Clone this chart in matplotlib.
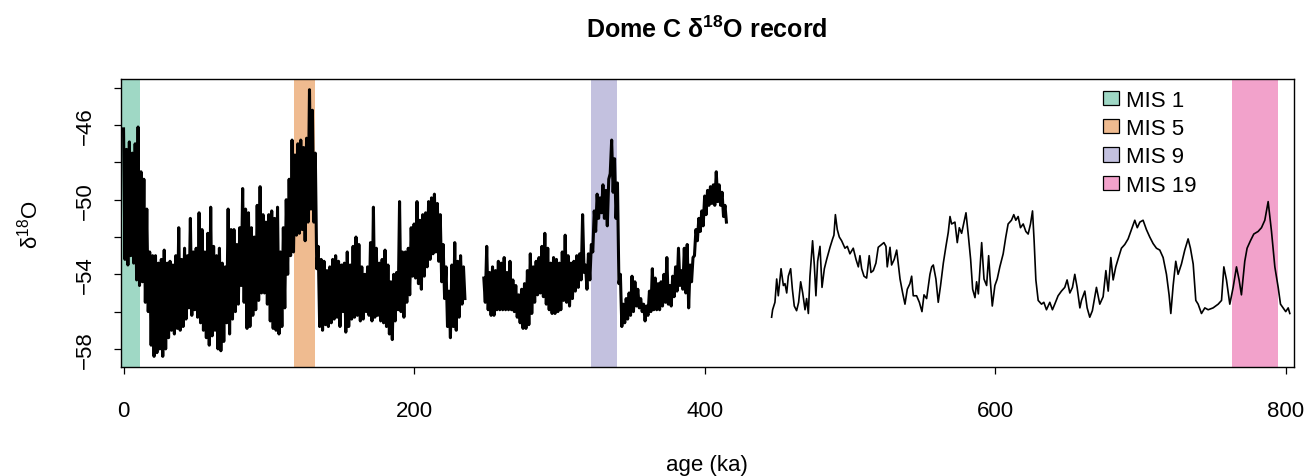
import matplotlib

matplotlib.use("Agg")

import matplotlib.pyplot as plt
import numpy as np
from matplotlib.patches import Patch

plt.rcParams["font.family"] = ["Liberation Sans", "DejaVu Sans"]
plt.rcParams["mathtext.fontset"] = "custom"
plt.rcParams["mathtext.default"] = "regular"
plt.rcParams["mathtext.rm"] = "Liberation Sans"

# --- data (age in ka, d18O in permil) ---
# noisy early part: upper and lower envelope of the dense record
seg1_start = 0
seg1_hi = [
    -46.2, -47.3, -46.9, -47.5, -47.0, -46.1, -48.5, -48.9, -50.5, -52.8,
    -53.0, -53.0, -53.4, -53.2, -52.7, -53.4, -53.3, -53.5, -53.0, -51.5,
    -53.2, -52.6, -53.0, -51.0, -52.8, -52.6, -50.7, -51.6, -52.8, -51.8,
    -50.4, -52.5, -53.0, -52.6, -53.4, -53.6, -50.5, -51.6, -51.6, -52.4,
    -51.5, -49.4, -50.5, -50.7, -51.5, -52.0, -50.3, -49.3, -50.8, -51.2,
    -50.8, -50.6, -51.0, -50.4, -52.8, -51.5, -50.0, -48.9, -46.8, -47.6,
    -47.0, -46.8, -47.2, -46.7, -44.1, -45.2, -47.5, -52.5, -53.2, -53.3,
    -53.8, -53.6, -53.2, -53.0, -53.3, -53.5, -53.4, -52.8, -53.5, -52.5,
    -52.0, -52.4, -53.6, -54.0, -53.6, -52.3, -50.4, -52.6, -53.4, -53.2,
    -52.7, -53.5, -54.4, -54.0, -53.9, -50.1, -52.8, -52.8, -52.6, -51.5,
    -51.3, -50.1, -51.1, -50.8, -50.7, -50.1, -49.9, -49.7, -50.2, -50.8,
    -52.4, -53.6, -54.9, -53.5, -52.3, -53.3, -53.0, -53.6,
]
seg1_lo = [
    -53.2, -53.5, -53.0, -53.4, -54.3, -54.6, -54.4, -55.5, -56.0, -57.8,
    -58.4, -58.2, -58.0, -58.4, -58.0, -57.4, -57.0, -57.2, -56.9, -57.0,
    -56.8, -56.4, -55.8, -56.2, -55.9, -56.3, -56.6, -57.0, -57.4, -57.8,
    -57.3, -57.0, -58.0, -58.1, -57.6, -56.6, -57.2, -56.4, -56.0, -55.6,
    -54.6, -55.5, -56.9, -56.8, -56.2, -55.9, -55.4, -55.0, -55.0, -55.6,
    -56.5, -56.9, -57.0, -57.2, -56.8, -55.8, -54.0, -53.0, -52.8, -51.9,
    -51.8, -51.6, -52.2, -51.2, -50.5, -51.2, -53.7, -56.8, -57.0, -56.7,
    -56.8, -56.6, -56.4, -56.3, -56.8, -56.0, -57.1, -56.8, -56.4, -56.3,
    -56.2, -56.5, -56.4, -56.0, -56.2, -56.5, -56.3, -56.2, -56.5, -56.6,
    -56.8, -57.2, -57.5, -56.5, -55.9, -56.0, -56.3, -55.5, -55.1, -54.1,
    -54.2, -54.5, -54.8, -54.1, -53.6, -53.2, -52.9, -52.8, -53.3, -54.4,
    -55.3, -56.8, -57.4, -56.8, -57.0, -56.3, -55.6, -55.3,
]

seg2_start = 248
seg2_hi = [
    -54.2, -52.5, -53.9, -53.6, -53.8, -53.3, -53.4, -53.1, -53.9, -53.3,
    -54.3, -54.6, -55.1, -54.8, -54.5, -53.8, -52.9, -53.6, -53.3, -53.1,
    -52.5, -51.8, -52.6, -53.4, -53.1, -53.2, -53.4, -52.8, -51.9, -53.0,
    -53.4, -53.3, -53.0, -52.9, -50.8, -53.5, -52.9, -52.4, -50.6, -49.7,
    -49.9, -49.2, -49.5, -48.9, -46.8, -47.8, -49.1, -54.0, -55.6, -55.3,
    -55.0, -54.1, -54.4, -54.8, -55.3, -55.6, -55.7, -54.9, -53.7, -54.2,
    -54.5, -54.4, -54.0, -53.1, -54.6, -54.1, -53.6, -52.6, -53.8, -52.6,
    -52.4, -53.5, -53.1, -51.6, -51.0, -50.6, -49.8, -49.5, -49.3, -49.2,
    -48.5, -49.2, -49.6, -50.3,
]
seg2_lo = [
    -55.5, -55.9, -56.2, -56.2, -55.9, -55.9, -55.9, -55.9, -55.9, -55.9,
    -56.0, -56.3, -56.6, -56.9, -56.9, -56.7, -56.1, -55.5, -55.1, -55.0,
    -55.2, -55.6, -55.9, -56.1, -56.1, -56.0, -55.9, -55.4, -55.5, -55.7,
    -55.3, -54.9, -54.7, -54.3, -53.9, -54.8, -54.3, -52.8, -51.7, -51.0,
    -50.7, -51.0, -51.4, -48.6, -49.6, -51.0, -54.5, -56.8, -56.6, -56.4,
    -56.2, -56.0, -55.7, -55.8, -56.0, -56.5, -56.2, -56.0, -55.9, -55.9,
    -55.9, -55.7, -55.5, -55.6, -55.7, -55.2, -54.9, -54.6, -54.8, -55.0,
    -55.8, -54.4, -53.0, -52.2, -51.7, -51.4, -50.8, -50.3, -50.2, -50.3,
    -50.1, -50.3, -50.9, -51.2,
]

# older part: lower resolution, single line
seg3_age = [
    446.1, 446.8, 448.4, 449.6, 450.7, 452.6, 454.2, 455.3, 456.5, 457.6,
    459.2, 460.4, 461.7, 463.3, 464.7, 466.1, 467.5, 469.1, 470.2, 471.4,
    472.5, 474.3, 475.5, 476.6, 477.8, 479.4, 480.8, 482.4, 484.0, 486.3,
    488.1, 489.0, 490.0, 491.3, 492.7, 494.3, 496.6, 498.2, 500.0, 502.3,
    504.2, 505.8, 506.9, 508.1, 509.7, 511.5, 513.3, 514.5, 516.1, 517.9,
    519.5, 521.8, 523.4, 524.8, 525.7, 527.6, 528.7, 530.5, 532.2, 534.5,
    536.3, 537.9, 539.5, 541.3, 542.5, 543.6, 545.9, 547.8, 549.6, 551.0,
    552.8, 554.0, 555.1, 556.3, 557.4, 559.2, 560.8, 562.4, 564.3, 566.1,
    567.7, 568.9, 570.0, 572.3, 573.9, 575.3, 576.9, 578.5, 579.9, 581.5,
    583.1, 584.5, 586.1, 587.2, 588.4, 590.7, 592.3, 594.1, 595.5, 596.4,
    598.0, 599.8, 601.4, 603.2, 605.5, 607.3, 608.9, 611.2, 612.8, 614.2,
    615.8, 617.4, 619.3, 621.1, 622.7, 624.3, 625.7, 626.8, 628.0, 629.6,
    631.9, 633.5, 635.3, 637.6, 639.4, 641.0, 643.3, 645.6, 647.9, 649.5,
    651.4, 653.2, 654.8, 656.4, 658.3, 659.4, 661.7, 663.3, 665.1, 666.9,
    669.7, 672.0, 674.3, 676.2, 677.8, 679.6, 681.2, 683.0, 684.9, 686.9,
    689.2, 691.5, 693.8, 696.1, 697.8, 699.6, 701.8, 704.1, 706.4, 708.7,
    711.0, 713.3, 715.6, 717.9, 719.7, 720.9, 722.5, 724.3, 725.9, 728.2,
    730.5, 732.8, 734.4, 736.3, 738.1, 739.7, 742.0, 744.3, 746.6, 750.0,
    753.5, 755.8, 757.4, 759.2, 761.5, 763.8, 766.1, 767.9, 769.5, 771.8,
    773.4, 775.7, 778.0, 781.0, 783.3, 785.6, 787.9, 790.2, 792.5, 794.8,
    796.4, 798.2, 800.0, 801.7, 802.8,
]
seg3_val = [
    -56.3, -55.9, -55.5, -54.25, -55.15, -53.7, -54.6, -54.5, -55.0, -54.1,
    -53.7, -54.8, -55.7, -55.95, -55.5, -54.4, -55.0, -55.9, -55.3, -56.1,
    -54.1, -52.2, -53.5, -55.15, -53.3, -52.5, -54.7, -53.7, -53.2, -52.55,
    -52.1, -51.9, -50.8, -51.6, -52.0, -52.2, -52.6, -52.5, -52.9, -52.6,
    -53.2, -53.6, -53.0, -53.7, -54.1, -54.2, -53.0, -53.9, -53.8, -53.4,
    -52.55, -52.4, -52.3, -52.5, -53.6, -52.55, -53.5, -53.2, -52.7, -54.25,
    -55.0, -55.6, -54.8, -54.5, -54.1, -55.15, -55.15, -55.5, -56.0, -55.1,
    -55.3, -54.6, -54.0, -53.6, -53.5, -54.25, -55.5, -54.6, -53.4, -52.5,
    -51.75, -50.9, -51.3, -51.2, -52.3, -51.5, -51.8, -51.2, -50.7, -51.9,
    -53.2, -54.8, -55.25, -54.4, -55.05, -52.3, -54.25, -54.6, -53.0, -54.1,
    -55.7, -54.6, -54.25, -53.6, -52.9, -52.0, -51.3, -51.1, -50.8, -51.1,
    -50.9, -51.5, -51.3, -51.7, -51.84, -51.3, -50.6, -52.2, -54.3, -55.4,
    -55.6, -55.5, -55.9, -55.5, -55.9, -55.6, -55.15, -54.9, -54.7, -54.3,
    -55.0, -54.7, -54.0, -54.7, -55.8, -55.4, -54.9, -55.8, -56.3, -55.95,
    -54.7, -55.6, -55.2, -53.8, -54.9, -53.1, -54.3, -53.6, -53.1, -52.6,
    -52.4, -52.1, -51.6, -51.1, -51.5, -51.2, -51.1, -51.6, -52.0, -52.35,
    -52.6, -52.7, -53.1, -54.0, -55.1, -56.1, -54.6, -53.3, -54.0, -53.45,
    -52.7, -52.1, -52.6, -53.45, -55.4, -55.6, -56.1, -55.8, -55.9, -55.8,
    -55.6, -55.4, -53.6, -54.3, -55.6, -54.7, -53.6, -54.3, -55.1, -53.3,
    -52.6, -52.2, -51.84, -51.7, -51.5, -51.1, -50.1, -51.7, -53.6, -54.7,
    -55.6, -55.8, -56.0, -55.8, -56.1,
]

mis_labels = ["MIS 1", "MIS 5", "MIS 9", "MIS 19"]
mis_start = [-2, 117, 322, 763]
mis_end = [11.3, 132, 339.5, 795]
mis_colors = ["#9fd8c5", "#efbb90", "#c3c1df", "#f2a2cb"]


def zigzag(start, hi, lo):
    vals = np.empty(len(hi) + len(lo))
    vals[0::2] = hi
    vals[1::2] = lo
    ages = start + np.arange(len(vals))
    return ages, vals


fig = plt.figure(figsize=(13.06, 4.77), dpi=100)
ax = fig.add_axes([0.0927, 0.2285, 0.8979, 0.6044])

for x0, x1, col in zip(mis_start, mis_end, mis_colors):
    ax.axvspan(x0, x1, color=col, lw=0, zorder=1)

# dense part of the record: thick stroke so the band reads as solid
for start, hi, lo in [(seg1_start, seg1_hi, seg1_lo), (seg2_start, seg2_hi, seg2_lo)]:
    a, v = zigzag(start, hi, lo)
    ax.plot(a, v, color="black", lw=2.2, zorder=3)
ax.plot(seg3_age, seg3_val, color="black", lw=1.2, zorder=3)

ax.set_xlim(-1.7, 805.5)
ax.set_ylim(-58.97, -43.51)
ax.set_xticks([0, 200, 400, 600, 800])
yt = [-58, -56, -54, -52, -50, -48, -46, -44]
ax.set_yticks(yt)
ax.set_yticklabels([f"\u2212{abs(t)}" if i % 2 == 0 else "" for i, t in enumerate(yt)],
                   rotation=90, va="center")
ax.tick_params(axis="both", length=5, width=0.9, labelsize=16)
ax.tick_params(axis="x", pad=19)
ax.tick_params(axis="y", pad=13)
for sp in ax.spines.values():
    sp.set_linewidth(1.0)

handles = [Patch(facecolor=c, edgecolor="black", lw=0.9, label=l)
           for c, l in zip(mis_colors, mis_labels)]
ax.legend(handles=handles, loc="upper left", bbox_to_anchor=(0.8377, 0.962),
          frameon=False, fontsize=16, borderaxespad=0, borderpad=0,
          handlelength=0.68, handleheight=0.6, handletextpad=0.32, labelspacing=0.33)

cx = 0.5413
fig.text(cx, 0.937, "Dome C δ$^{18}$O record", ha="center", va="center",
         fontsize=18, fontweight="bold")
fig.text(cx, 0.025, "age (ka)", ha="center", va="center", fontsize=16)
fig.text(0.0225, 0.53, "δ$^{18}$O", ha="center", va="center", rotation=90, fontsize=16)

fig.savefig("out.png", dpi=100)
